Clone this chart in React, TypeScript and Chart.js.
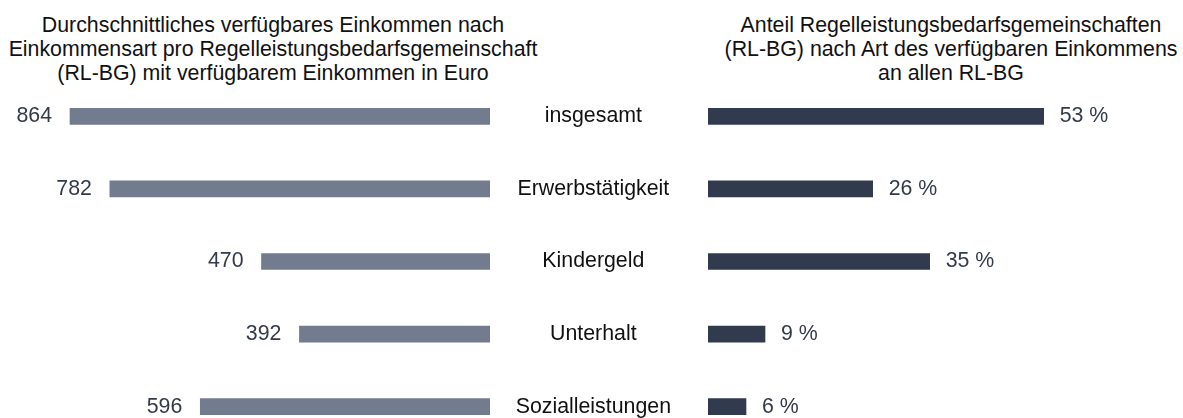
import React, { useEffect, useRef } from "react";
import { Chart, registerables } from "chart.js";

Chart.register(...registerables);

const categories = ["insgesamt", "Erwerbstätigkeit", "Kindergeld", "Unterhalt", "Sozialleistungen"];
const incomeEuro = [864, 782, 470, 392, 596];
const sharePercent = [53, 26, 35, 9, 6];
const leftTitle = [
  "Durchschnittliches verfügbares Einkommen nach",
  "Einkommensart pro Regelleistungsbedarfsgemeinschaft",
  "(RL-BG) mit verfügbarem Einkommen in Euro",
];
const rightTitle = [
  "Anteil Regelleistungsbedarfsgemeinschaften",
  "(RL-BG) nach Art des verfügbaren Einkommens",
  "an allen RL-BG",
];

const FONT = "'Liberation Sans', Arial, Helvetica, sans-serif";
const FONT_SIZE = 21.33;
const LEFT_COLOR = "#737b8e";
const RIGHT_COLOR = "#323a4e";
const VALUE_COLOR = "#333a4a";
const LABEL_COLOR = "#111111";

function valueLabelPlugin(side: "left" | "right", fmt: (v: number) => string) {
  return {
    id: "valueLabels" + side,
    afterDatasetsDraw(chart: any) {
      const ctx = chart.ctx;
      const meta = chart.getDatasetMeta(0);
      const data = chart.data.datasets[0].data as number[];
      ctx.save();
      ctx.font = `${FONT_SIZE}px ${FONT}`;
      ctx.fillStyle = VALUE_COLOR;
      ctx.textBaseline = "middle";
      meta.data.forEach((bar: any, i: number) => {
        const text = fmt(data[i]);
        if (side === "left") {
          ctx.textAlign = "right";
          ctx.fillText(text, bar.x - 18, bar.y);
        } else {
          ctx.textAlign = "left";
          ctx.fillText(text, bar.x + 16, bar.y);
        }
      });
      ctx.restore();
    },
  };
}

export default function App() {
  const leftRef = useRef<HTMLCanvasElement>(null);
  const rightRef = useRef<HTMLCanvasElement>(null);

  useEffect(() => {
    const left = new Chart(leftRef.current!, {
      type: "bar",
      data: {
        labels: categories,
        datasets: [
          {
            data: incomeEuro,
            backgroundColor: LEFT_COLOR,
            barThickness: 16,
          },
        ],
      },
      options: {
        indexAxis: "y",
        animation: false,
        responsive: false,
        layout: { padding: { top: 80, bottom: 0, left: 0, right: 0 } },
        plugins: { legend: { display: false }, tooltip: { enabled: false }, title: { display: false } },
        scales: {
          x: { display: false, reverse: true, min: 0, max: 1008 },
          y: { display: false },
        },
      },
      plugins: [valueLabelPlugin("left", (v) => String(v))],
    });

    const right = new Chart(rightRef.current!, {
      type: "bar",
      data: {
        labels: categories,
        datasets: [
          {
            data: sharePercent,
            backgroundColor: RIGHT_COLOR,
            barThickness: 16,
          },
        ],
      },
      options: {
        indexAxis: "y",
        animation: false,
        responsive: false,
        layout: { padding: { top: 80, bottom: 60, left: 0, right: 0 } },
        plugins: { legend: { display: false }, tooltip: { enabled: false }, title: { display: false } },
        scales: {
          x: { display: false, min: 0, max: 75 },
          y: {
            display: true,
            grid: { display: false, drawTicks: false },
            border: { display: false },
            ticks: {
              color: LABEL_COLOR,
              font: { family: FONT, size: FONT_SIZE },
              crossAlign: "center",
              padding: 37,
            },
            afterFit: (scale: any) => {
              scale.width = 218;
            },
          },
        },
      },
      plugins: [valueLabelPlugin("right", (v) => `${v} %`)],
    });

    return () => {
      left.destroy();
      right.destroy();
    };
  }, []);

  const titleStyle: React.CSSProperties = {
    position: "absolute",
    top: 13,
    textAlign: "center",
    fontFamily: FONT,
    fontSize: FONT_SIZE,
    lineHeight: "24px",
    color: "#111111",
    whiteSpace: "nowrap",
  };

  return (
    <div
      style={{
        position: "absolute",
        left: 0,
        top: 0,
        width: 1183,
        height: 418,
        overflow: "hidden",
        background: "#ffffff",
      }}
    >
      <div style={{ ...titleStyle, left: 273 - 300, width: 600 }}>
        {leftTitle.map((l, i) => (
          <div key={i}>{l}</div>
        ))}
      </div>
      <div style={{ ...titleStyle, left: 951 - 300, width: 600 }}>
        {rightTitle.map((l, i) => (
          <div key={i}>{l}</div>
        ))}
      </div>
      <canvas
        ref={leftRef}
        width={490}
        height={443}
        style={{ position: "absolute", left: 0, top: 0, width: 490, height: 443 }}
      />
      <canvas
        ref={rightRef}
        width={693}
        height={503}
        style={{ position: "absolute", left: 490, top: 0, width: 693, height: 503 }}
      />
    </div>
  );
}
